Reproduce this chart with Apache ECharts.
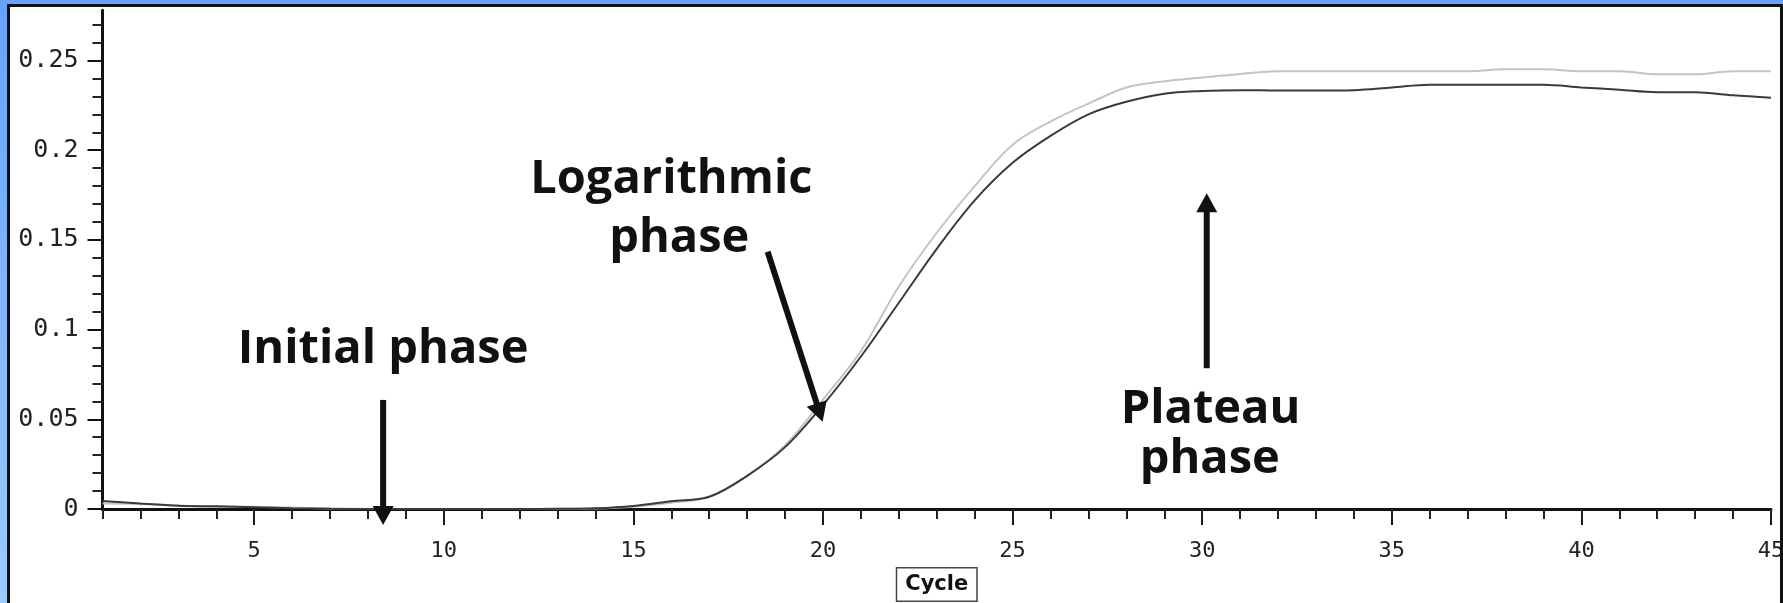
<!DOCTYPE html>
<html><head><meta charset="utf-8">
<script src="https://cdn.jsdelivr.net/npm/echarts@6/dist/echarts.min.js"></script>
<style>
html,body{margin:0;padding:0;width:1783px;height:603px;overflow:hidden;background:linear-gradient(180deg,#66a3ff 0%,#86b9ff 60%,#9ccbff 100%);}
#wrap{position:absolute;left:7px;top:4px;width:1776px;height:599px;box-sizing:border-box;border:3px solid #111;border-bottom:none;background:#fff;overflow:hidden;}
#chart{position:absolute;left:0;top:0;width:1770px;height:596px;}
</style></head><body>
<div id="wrap"><div id="chart"></div></div>
<script>
// ---- data ----
const cycles = [1,2,3,4,5,6,7,8,9,10,11,12,13,14,15,16,17,18,19,20,21,22,23,24,25,26,27,28,29,30,31,32,33,34,35,36,37,38,39,40,41,42,43,44,45];
const sampleDark = [0.0045,0.003,0.0018,0.0015,0.001,0.0004,0.0001,0,0,0,0,0,0.0001,0.0004,0.0017,0.0043,0.0068,0.0185,0.0345,0.058,0.085,0.115,0.145,0.172,0.193,0.208,0.220,0.227,0.2315,0.233,0.2335,0.2333,0.2333,0.2335,0.235,0.2365,0.2365,0.2365,0.2365,0.235,0.2337,0.2323,0.2323,0.2306,0.2293];
const sampleLight = [0.003,0.0028,0.002,0.0013,0.0013,0.0008,0.0003,0,0,0,0,0,0.0001,0.0003,0.0013,0.0035,0.0068,0.0185,0.0355,0.061,0.088,0.124,0.154,0.180,0.203,0.216,0.226,0.235,0.2385,0.2405,0.2425,0.244,0.244,0.244,0.244,0.244,0.244,0.2452,0.2452,0.244,0.244,0.2423,0.2423,0.244,0.244];
const xTickLabels = [5,10,15,20,25,30,35,40,45];
const yTickLabels = [0,0.05,0.1,0.15,0.2,0.25];
const xMinorTicks = cycles.slice();
const yMinorTicks = [0.01,0.02,0.03,0.04,0.06,0.07,0.08,0.09,0.11,0.12,0.13,0.14,0.16,0.17,0.18,0.19,0.21,0.22,0.23,0.24,0.26,0.27];
const axisName = 'Cycle';
// annotations (data coordinates; y = text baseline)
const annoText = ['Initial phase','Logarithmic','phase','Plateau','phase'];
const annoPos = [[8.40,0.0812],[16.0,0.1760],[16.21,0.1434],[30.22,0.0481],[30.20,0.0202]];
const arrowTail = [[8.40,0.0608],[18.54,0.1434],[30.12,0.0784]];
const arrowTip  = [[8.40,-0.0089],[19.99,0.0487],[30.12,0.176]];

const annoFont = {family:'Open Sans', weight:'bold', size:47};
// distance from the canvas "middle" line down to the alphabetic baseline
const baseOff = (function(){
  const ctx = document.createElement('canvas').getContext('2d');
  ctx.font = annoFont.weight + ' ' + annoFont.size + 'px "' + annoFont.family + '"';
  ctx.textBaseline = 'alphabetic';
  const a = ctx.measureText('H').actualBoundingBoxAscent;
  ctx.textBaseline = 'middle';
  const m = ctx.measureText('H').actualBoundingBoxAscent;
  const d = a - m;
  return (isFinite(d) && d > 5 && d < 40) ? d : 18;
})();

const chart = echarts.init(document.getElementById('chart'), null, {renderer:'canvas'});
const option = {
  animation:false,
  backgroundColor:'transparent',
  grid:{left:92.5, right:9, top:3.3, bottom:94, containLabel:false, outerBoundsMode:'none'},
  xAxis:[
    {type:'value', min:1, max:45, position:'bottom',
     axisLine:{show:true, onZero:true, lineStyle:{color:'#111', width:3}},
     axisTick:{show:true, customValues:xTickLabels, length:16, lineStyle:{color:'#111', width:2}},
     axisLabel:{show:true, customValues:xTickLabels, margin:31, showMaxLabel:true, showMinLabel:true, hideOverlap:false, fontFamily:'DejaVu Sans Mono', fontSize:22, color:'#222'},
     splitLine:{show:false},
     name:axisName, nameLocation:'middle', nameGap:56,
     nameTextStyle:{fontFamily:'DejaVu Sans', fontWeight:'bold', fontSize:21, color:'#111', borderColor:'#444', borderWidth:1.5, padding:[6,8,5,8], backgroundColor:'#fff'}
    },
    {type:'value', min:1, max:45, position:'bottom',
     axisLine:{show:false},
     axisTick:{show:true, customValues:xMinorTicks, length:10, lineStyle:{color:'#222', width:2}},
     axisLabel:{show:false}, splitLine:{show:false}}
  ],
  yAxis:[
    {type:'value', min:0, max:0.278, position:'left',
     axisLine:{show:true, onZero:false, lineStyle:{color:'#111', width:3}},
     axisTick:{show:true, customValues:yTickLabels, length:15, lineStyle:{color:'#111', width:2}},
     axisLabel:{show:true, customValues:yTickLabels, margin:24, formatter:v=>String(v), fontFamily:'DejaVu Sans Mono', fontSize:25, color:'#222'},
     splitLine:{show:false}},
    {type:'value', min:0, max:0.278, position:'left',
     axisLine:{show:false},
     axisTick:{show:true, customValues:yMinorTicks, length:10, lineStyle:{color:'#222', width:2}},
     axisLabel:{show:false}, splitLine:{show:false}}
  ],
  series:[
    {type:'line', name:'light', xAxisIndex:0, yAxisIndex:0, data:cycles.map((c,i)=>[c,sampleLight[i]]),
     showSymbol:false, smooth:0.35, lineStyle:{color:'#c4c4c4', width:2}, z:3},
    {type:'line', name:'dark', xAxisIndex:0, yAxisIndex:0, data:cycles.map((c,i)=>[c,sampleDark[i]]),
     showSymbol:false, smooth:0.35, lineStyle:{color:'#3a3a3a', width:2}, z:4},
    {type:'custom', name:'arrows', xAxisIndex:0, yAxisIndex:0, clip:false, silent:true, z:6,
     data:arrowTail.map((t,i)=>[t[0],t[1],arrowTip[i][0],arrowTip[i][1]]),
     encode:{x:[0,2], y:[1,3]},
     renderItem:function(params, api){
       const a = api.coord([api.value(0), api.value(1)]);
       const b = api.coord([api.value(2), api.value(3)]);
       const dx=b[0]-a[0], dy=b[1]-a[1], L=Math.hypot(dx,dy), ux=dx/L, uy=dy/L;
       const hl=19, hw=10.5;
       const base=[b[0]-ux*hl, b[1]-uy*hl];
       const px=-uy, py=ux;
       return {type:'group', children:[
         {type:'line', shape:{x1:a[0],y1:a[1],x2:base[0]+ux*3,y2:base[1]+uy*3}, style:{stroke:'#111',lineWidth:6}},
         {type:'polygon', shape:{points:[[b[0],b[1]],[base[0]+px*hw, base[1]+py*hw],[base[0]-px*hw, base[1]-py*hw]]}, style:{fill:'#111'}}
       ]};
     }},
    {type:'custom', name:'labels', xAxisIndex:0, yAxisIndex:0, clip:false, silent:true, z:6,
     data:annoPos,
     encode:{x:0, y:1},
     renderItem:function(params, api){
       const p = api.coord([api.value(0), api.value(1)]);
       return {type:'text', x:p[0], y:p[1]-baseOff, style:{text:annoText[params.dataIndex], fontFamily:annoFont.family, fontWeight:annoFont.weight, fontSize:annoFont.size, fill:'#111', align:'center', verticalAlign:'middle'}};
     }}
  ]
};
chart.setOption(option);
</script>
</body></html>
